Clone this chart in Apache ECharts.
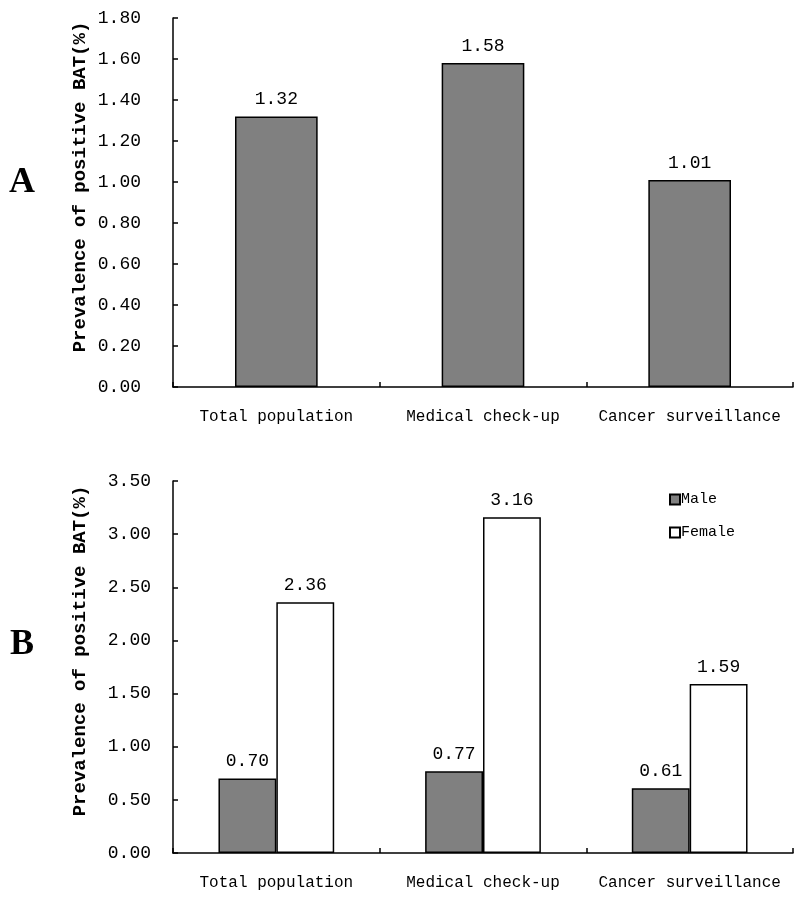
<!DOCTYPE html>
<html><head><meta charset="utf-8">
<script src="https://cdn.jsdelivr.net/npm/echarts@6/dist/echarts.min.js"></script>
<style>html,body{margin:0;padding:0;background:#fff}#c{width:800px;height:898px}</style>
</head><body><div id="c"></div>
<script>
const categories = ['Total population', 'Medical check-up', 'Cancer surveillance'];
const totalValues = [1.32, 1.58, 1.01];
const maleValues = [0.70, 0.77, 0.61];
const femaleValues = [2.36, 3.16, 1.59];
const yTitle = 'Prevalence of positive BAT(%)';
const seriesNames = ['Male', 'Female'];

const mono = 'Liberation Mono';
const chart = echarts.init(document.getElementById('c'));
const axisLine = {show: true, lineStyle: {color: '#000', width: 1.5}};
const axisTick = {show: true, inside: true, length: 5, lineStyle: {color: '#000', width: 1.5}};
function xAx(idx) {
  return {type: 'category', gridIndex: idx, data: categories, axisLine, axisTick: Object.assign({alignWithLabel: false}, axisTick),
    axisLabel: {interval: 0, hideOverlap: false, fontFamily: mono, fontSize: 16, color: '#000', margin: 22}, splitLine: {show: false}};
}
function yAx(idx, max, interval, margin) {
  return {type: 'value', gridIndex: idx, min: 0, max, interval, axisLine, axisTick,
    axisLabel: {fontFamily: mono, fontSize: 18, color: '#000', margin, formatter: v => v.toFixed(2)},
    splitLine: {show: false}};
}
const lbl = {show: true, position: 'top', distance: 8, fontFamily: mono, fontSize: 18, color: '#000', formatter: p => p.value.toFixed(2)};
chart.setOption({
  animation: false,
  backgroundColor: '#fff',
  grid: [
    {left: 173, right: 7, top: 18, height: 369},
    {left: 173, right: 7, top: 481, height: 372}
  ],
  xAxis: [xAx(0), xAx(1)],
  yAxis: [yAx(0, 1.8, 0.2, 32), yAx(1, 3.5, 0.5, 22)],
  legend: {orient: 'vertical', left: 664, top: 487, itemWidth: 10, itemHeight: 10, itemGap: 18,
    icon: 'rect', data: seriesNames,
    textStyle: {fontFamily: mono, fontSize: 15, color: '#000', padding: [0, 0, 0, -4]}},
  series: [
    {type: 'bar', name: 'Total', xAxisIndex: 0, yAxisIndex: 0, data: totalValues, barWidth: '40%',
      itemStyle: {color: '#808080', borderColor: '#000', borderWidth: 1.5}, label: lbl},
    {type: 'bar', name: 'Male', xAxisIndex: 1, yAxisIndex: 1, data: maleValues, barWidth: '28%', barGap: '0%',
      itemStyle: {color: '#808080', borderColor: '#000', borderWidth: 1.5}, label: lbl},
    {type: 'bar', name: 'Female', xAxisIndex: 1, yAxisIndex: 1, data: femaleValues, barWidth: '28%', barGap: '0%',
      itemStyle: {color: '#fff', borderColor: '#000', borderWidth: 1.5}, label: lbl}
  ],
  graphic: [
    {type: 'text', x: 80, y: 187, rotation: Math.PI / 2, style: {text: yTitle, fontFamily: mono, fontWeight: 'bold', fontSize: 19, fill: '#000', align: 'center', verticalAlign: 'middle'}},
    {type: 'text', x: 80, y: 651, rotation: Math.PI / 2, style: {text: yTitle, fontFamily: mono, fontWeight: 'bold', fontSize: 19, fill: '#000', align: 'center', verticalAlign: 'middle'}},
    {type: 'text', x: 22, y: 183, style: {text: 'A', fontFamily: 'Liberation Serif', fontWeight: 'bold', fontSize: 36, fill: '#000', align: 'center', verticalAlign: 'middle'}},
    {type: 'text', x: 22, y: 645, style: {text: 'B', fontFamily: 'Liberation Serif', fontWeight: 'bold', fontSize: 36, fill: '#000', align: 'center', verticalAlign: 'middle'}}
  ]
});
</script></body></html>
